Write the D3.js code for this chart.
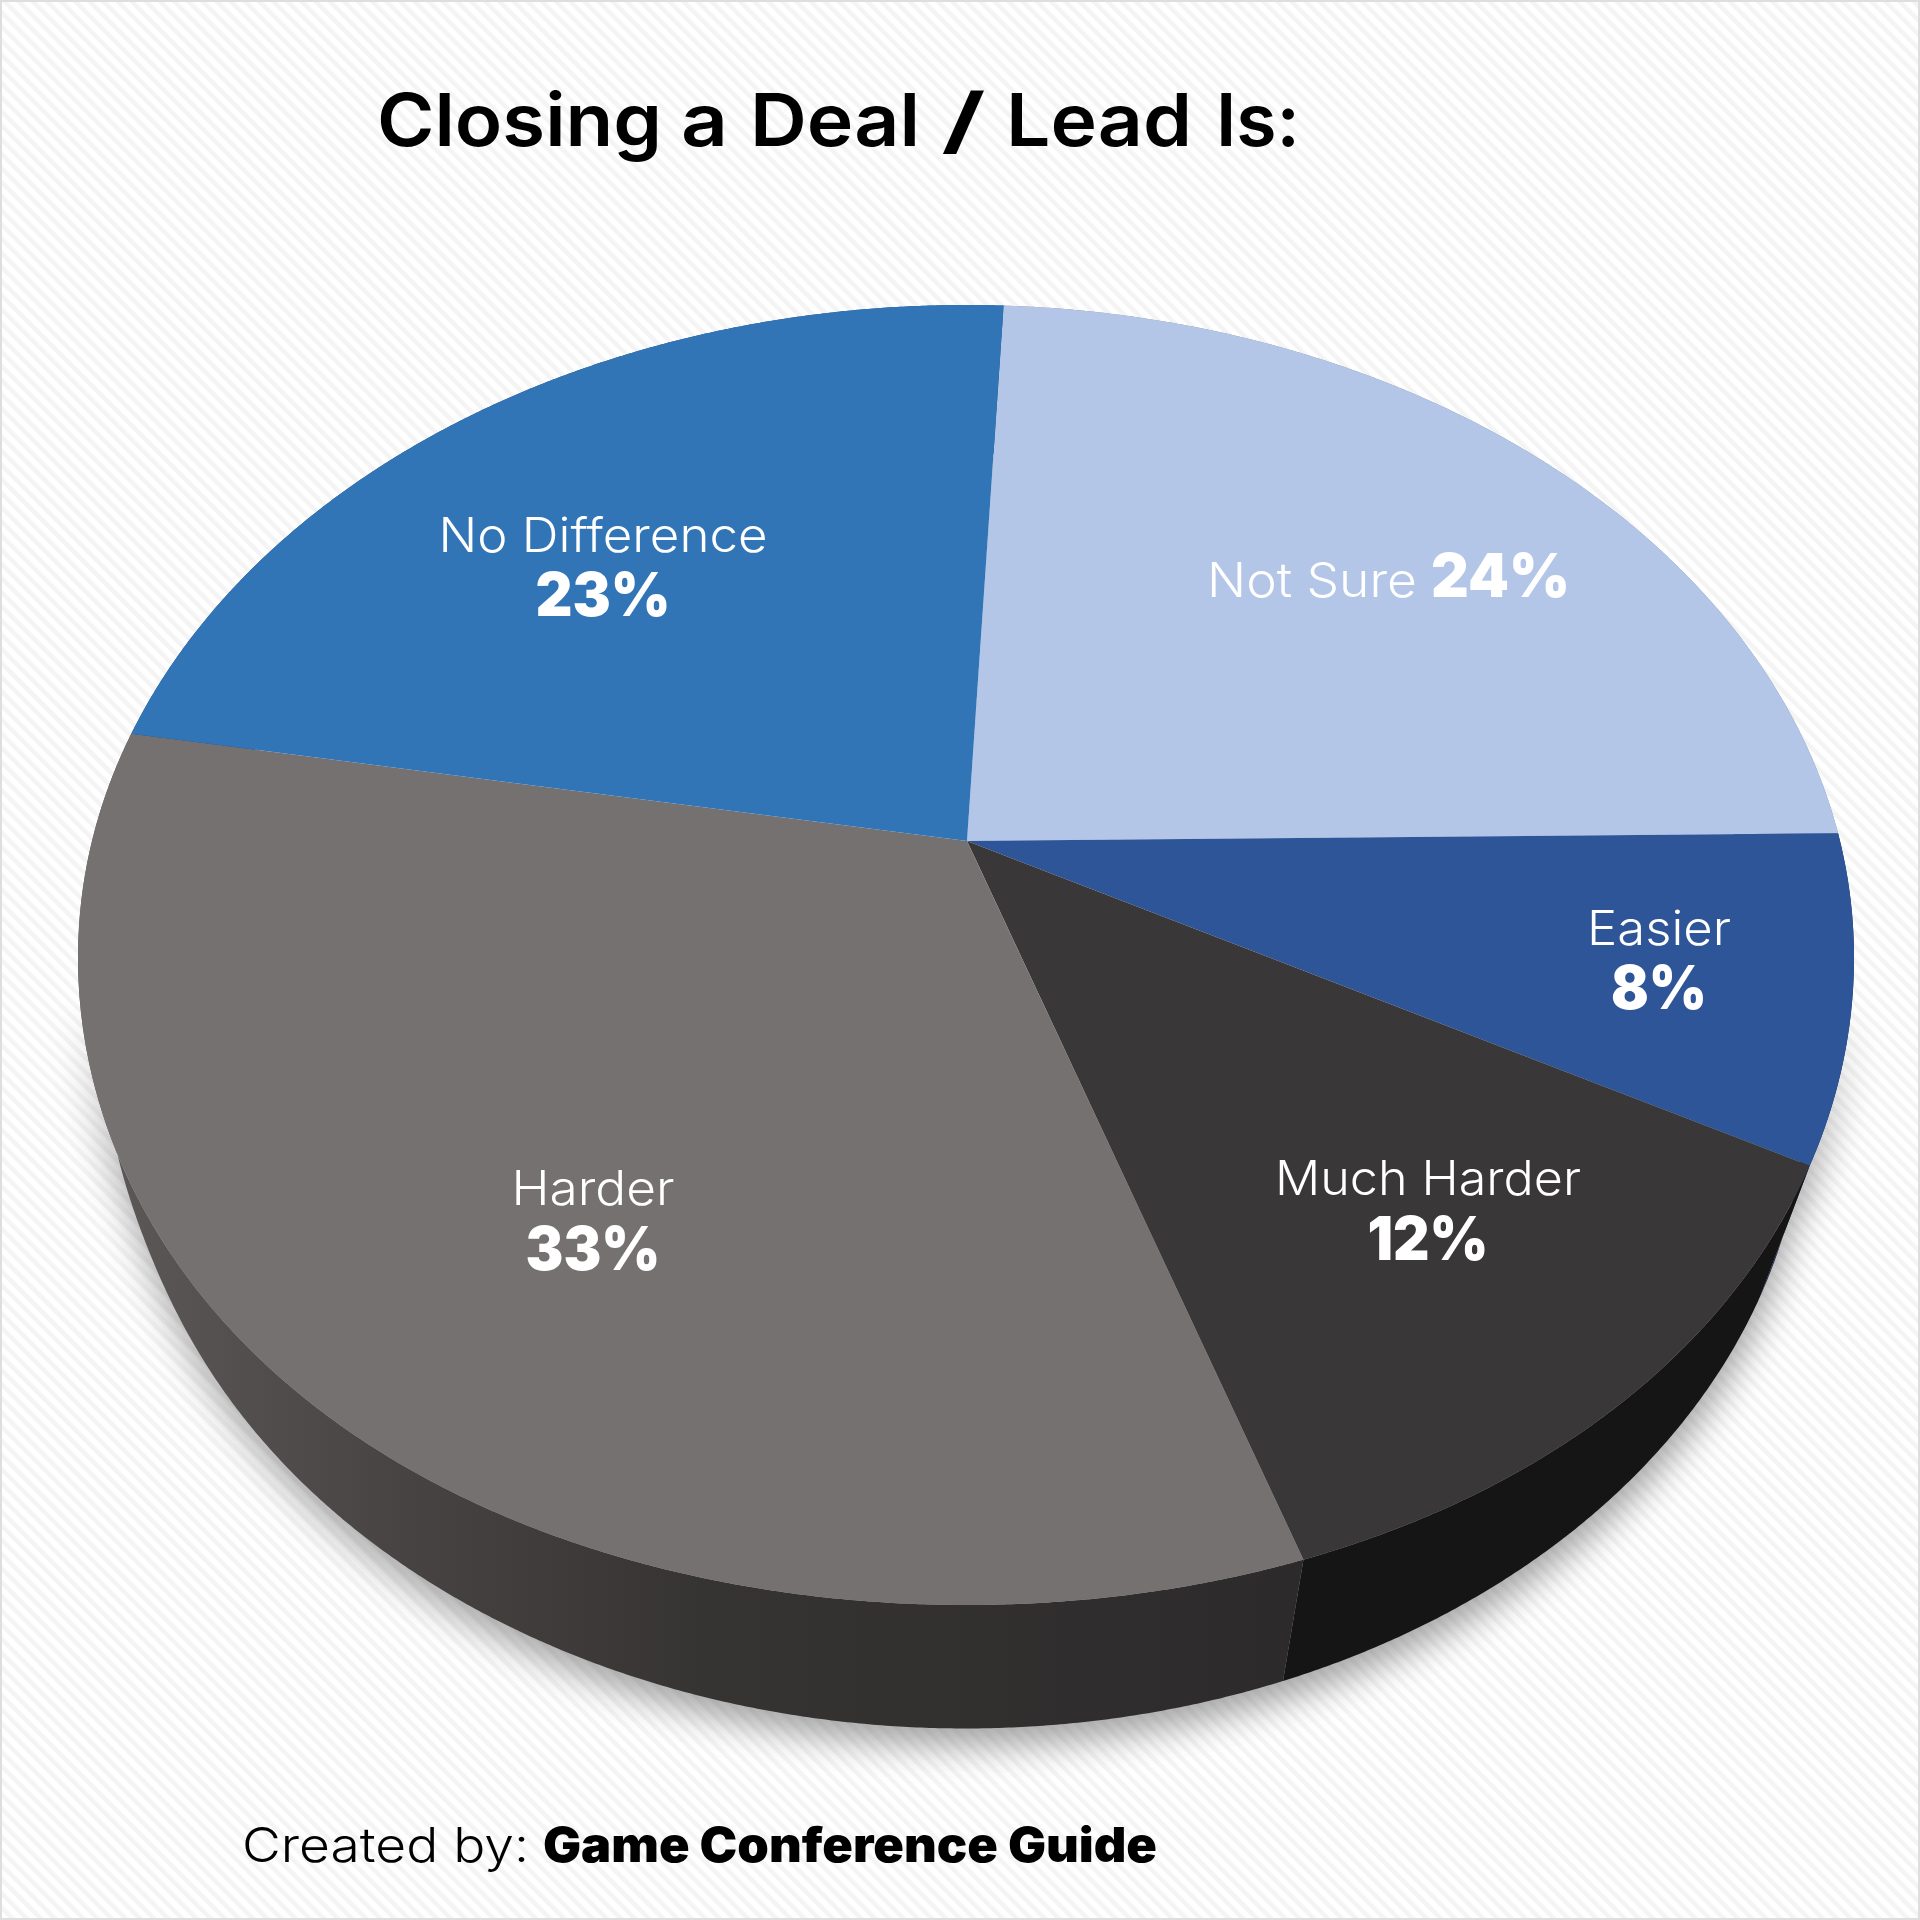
<!DOCTYPE html>
<html><head><meta charset="utf-8">
<script src="https://cdn.jsdelivr.net/npm/d3@7/dist/d3.min.js"></script>
<style>html,body{margin:0;padding:0;background:#fff}svg{display:block}text{font-family:Inter,"Noto Sans",sans-serif}</style>
</head><body><svg id="c" width="1920" height="1920"></svg>
<script>
const categories=["Not Sure","Easier","Much Harder","Harder","No Difference"];
const values=[24,8,12,33,23];
const faceColors=["#b3c6e7","#2d5597","#3a3738","#767171","#3175b7"];
const sideColors=["#7f8ca3","#14294f","#151515","url(#sideGrad)","#1f4f80"];
const titleWords=["Closing","a","Deal","/","Lead","Is:"];
const creditLead="Created by:";
const creditName="Game Conference Guide";

const svg=d3.select("#c");
const defs=svg.append("defs");
const pat=defs.append("pattern").attr("id","carbon").attr("patternUnits","userSpaceOnUse")
  .attr("width",10).attr("height",10).attr("patternTransform","rotate(-45)");
pat.append("rect").attr("width",10).attr("height",10).attr("fill","#fff");
pat.append("rect").attr("width",4.5).attr("height",10).attr("fill","#f4f4f4");
const grad=defs.append("linearGradient").attr("id","sideGrad").attr("gradientUnits","userSpaceOnUse")
  .attr("x1",110).attr("x2",1300).attr("y1",0).attr("y2",0);
[[0,"#5c5858"],[.25,"#474342"],[.5,"#363333"],[1,"#2c2a2a"]].forEach(s=>grad.append("stop").attr("offset",s[0]).attr("stop-color",s[1]));
const blur=defs.append("filter").attr("id","soft").attr("x","-10%").attr("y","-10%").attr("width","120%").attr("height","120%");
blur.append("feGaussianBlur").attr("stdDeviation",17);
const fade=defs.append("linearGradient").attr("id","shadowFade").attr("gradientUnits","userSpaceOnUse")
  .attr("x1",0).attr("x2",0).attr("y1",1000).attr("y2",1200);
fade.append("stop").attr("offset",0).attr("stop-color","#000");
fade.append("stop").attr("offset",1).attr("stop-color","#fff");
defs.append("mask").attr("id","shadowMask").attr("maskUnits","userSpaceOnUse").attr("x",0).attr("y",0).attr("width",1920).attr("height",1920)
  .append("rect").attr("width",1920).attr("height",1920).attr("fill","url(#shadowFade)");

svg.append("rect").attr("width",1920).attr("height",1920).attr("fill","url(#carbon)");
svg.append("rect").attr("x",1).attr("y",1).attr("width",1918).attr("height",1918).attr("fill","none").attr("stroke","#dedede").attr("stroke-width",2);

// perspective projection of the unit pie disc: far rim compressed, near rim enlarged
const persp=.1754;
const topDisc={x:966,y:841,a:874,b:630,diag:.012,left:0};
const lowDisc={x:965,y:979,a:827,b:618,diag:0,left:.02};
function project(d,t){
  const ux=Math.sin(t),uy=-Math.cos(t),w=1-persp*uy;
  const deg=((t*180/Math.PI)%360+360)%360;
  const g=1+d.diag*Math.pow(Math.sin(2*t),2)*Math.max(0,uy)+d.left*Math.exp(-Math.pow((deg-262)/12,2));
  return [d.x+g*d.a*ux/w,d.y+g*d.b*uy/w];
}
const line=d3.line();
const step=Math.PI/720;
function sweep(d,t0,t1){const n=Math.max(2,Math.ceil((t1-t0)/step));return d3.range(n+1).map(i=>project(d,t0+(t1-t0)*i/n));}

const pie=d3.pie().sort(null).startAngle(2.9*Math.PI/180).endAngle((360+2.9)*Math.PI/180);
const arcs=pie(values);
const full=[0,2*Math.PI];

const shadow=svg.append("g").attr("mask","url(#shadowMask)").append("g").attr("filter","url(#soft)").attr("opacity",.62);
shadow.append("path").attr("d",line(sweep(lowDisc,...full))+"Z").attr("transform","translate(2,18)").attr("fill","#707070");
shadow.append("path").attr("d",line(sweep(topDisc,...full))+"Z").attr("transform","translate(0,26)").attr("fill","#707070");

svg.append("g").selectAll("path").data(arcs).join("path")
  .attr("d",a=>line(sweep(topDisc,a.startAngle,a.endAngle).concat(sweep(lowDisc,a.startAngle,a.endAngle).reverse()))+"Z")
  .attr("fill",(a,i)=>sideColors[i]);
svg.append("g").selectAll("path").data(arcs).join("path")
  .attr("d",a=>line([[967,841]].concat(sweep(topDisc,a.startAngle,a.endAngle)))+"Z")
  .attr("fill",(a,i)=>faceColors[i]);

function label(x,y,str,size,weight,fill,anchor,width){
  svg.append("text").attr("x",x).attr("y",y).attr("font-size",size).attr("font-weight",weight).attr("fill",fill)
    .attr("text-anchor",anchor).attr("textLength",width).attr("lengthAdjust","spacingAndGlyphs").text(str);
}
const titleX=[377,681,750,941,1006,1216], titleW=[285,47,170,45,186,84];
const title=svg.append("text").attr("y",146).attr("font-size",73).attr("font-weight",600).attr("fill","#000");
title.selectAll("tspan").data(titleWords).join("tspan")
  .attr("x",(d,i)=>titleX[i]).attr("textLength",(d,i)=>titleW[i]).attr("lengthAdjust","spacingAndGlyphs").text(d=>d);

label(242,1862,creditLead,48,300,"#000","start",287);
label(543,1862,creditName,48,900,"#000","start",614);

label(603,552,categories[4],48,300,"#fff","middle",329);
label(603,616,values[4]+"%",60,900,"#fff","middle",135);
label(1207,597,categories[0],48,300,"#fff","start",210);
label(1431,597,values[0]+"%",60,900,"#fff","start",139);
label(1659,945,categories[1],48,300,"#fff","middle",144);
label(1659,1009,values[1]+"%",60,900,"#fff","middle",96);
label(1428,1195,categories[2],48,300,"#fff","middle",306);
label(1428,1260,values[2]+"%",60,900,"#fff","middle",121);
label(593,1205,categories[3],48,300,"#fff","middle",163);
label(593,1270,values[3]+"%",60,900,"#fff","middle",135);
</script></body></html>
